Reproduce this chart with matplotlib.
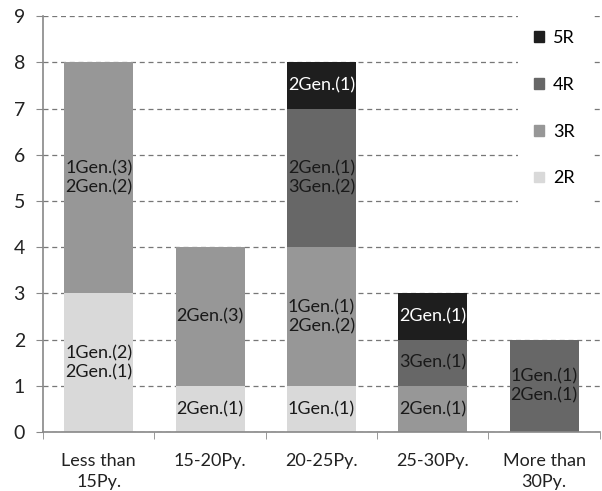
import numpy as np
import matplotlib.pyplot as plt
from matplotlib.patches import Patch

plt.rcParams["font.family"] = ["Lato", "DejaVu Sans"]

categories = ["Less than\n15Py.", "15-20Py.", "20-25Py.", "25-30Py.", "More than\n30Py."]
series = ["2R", "3R", "4R", "5R"]
r2 = [3, 1, 1, 0, 0]
r3 = [5, 3, 3, 1, 0]
r4 = [0, 0, 3, 1, 2]
r5 = [0, 0, 1, 1, 0]
labels_r2 = ["1Gen.(2)\n2Gen.(1)", "2Gen.(1)", "1Gen.(1)", "", ""]
labels_r3 = ["1Gen.(3)\n2Gen.(2)", "2Gen.(3)", "1Gen.(1)\n2Gen.(2)", "2Gen.(1)", ""]
labels_r4 = ["", "", "2Gen.(1)\n3Gen.(2)", "3Gen.(1)", "1Gen.(1)\n2Gen.(1)"]
labels_r5 = ["", "", "2Gen.(1)", "2Gen.(1)", ""]

colors = ["#d9d9d9", "#979797", "#676767", "#1e1e1e"]
text_colors = ["#1a1a1a", "#1a1a1a", "#1a1a1a", "white"]

fig = plt.figure(figsize=(6.02, 4.91), dpi=100)
ax = fig.add_axes([0.0714, 0.120, 0.925, 0.847])

x = np.arange(len(categories))
bottom = np.zeros(len(categories))
for vals, labs, c, tc in zip([r2, r3, r4, r5], [labels_r2, labels_r3, labels_r4, labels_r5],
                             colors, text_colors):
    vals = np.array(vals, dtype=float)
    ax.bar(x, vals, 0.62, bottom=bottom, color=c, zorder=2)
    for i, (v, lab) in enumerate(zip(vals, labs)):
        if v > 0 and lab:
            ax.text(x[i], bottom[i] + v / 2, lab, ha="center", va="center",
                    fontsize=13, color=tc, linespacing=1.2, zorder=3)
    bottom += vals

ax.set_ylim(0, 9)
ax.set_xlim(-0.5, len(categories) - 0.5)
ax.set_yticks(range(10))
ax.yaxis.grid(True, linestyle=(0, (4, 3)), color="#777777", linewidth=0.9, zorder=0)
ax.set_axisbelow(True)

ax.set_xticks(x)
ax.set_xticklabels(categories, fontsize=13, color="#222222", linespacing=1.4,
                   multialignment="center")
ax.set_xticks(np.arange(-0.5, len(categories)), minor=True)
ax.tick_params(axis="x", which="major", length=0, pad=15)
ax.tick_params(axis="x", which="minor", length=5, color="#888888", direction="out")
ax.tick_params(axis="y", length=5, color="#888888", labelsize=14, pad=8)
for lab in ax.get_yticklabels():
    lab.set_color("#222222")

for s in ["top", "right"]:
    ax.spines[s].set_visible(False)
for s in ["left", "bottom"]:
    ax.spines[s].set_color("#888888")
    ax.spines[s].set_linewidth(1.2)

handles = [Patch(color=colors[i], label=series[i]) for i in range(3, -1, -1)]
leg = ax.legend(handles=handles, loc="upper left", bbox_to_anchor=(0.836, 1.027),
                fontsize=13, frameon=True, fancybox=False, edgecolor="none",
                framealpha=1.0, handlelength=0.55, handleheight=0.55,
                handletextpad=0.5, labelspacing=1.7, borderpad=0.9)
leg.set_zorder(5)

fig.savefig("out.png", dpi=100)
